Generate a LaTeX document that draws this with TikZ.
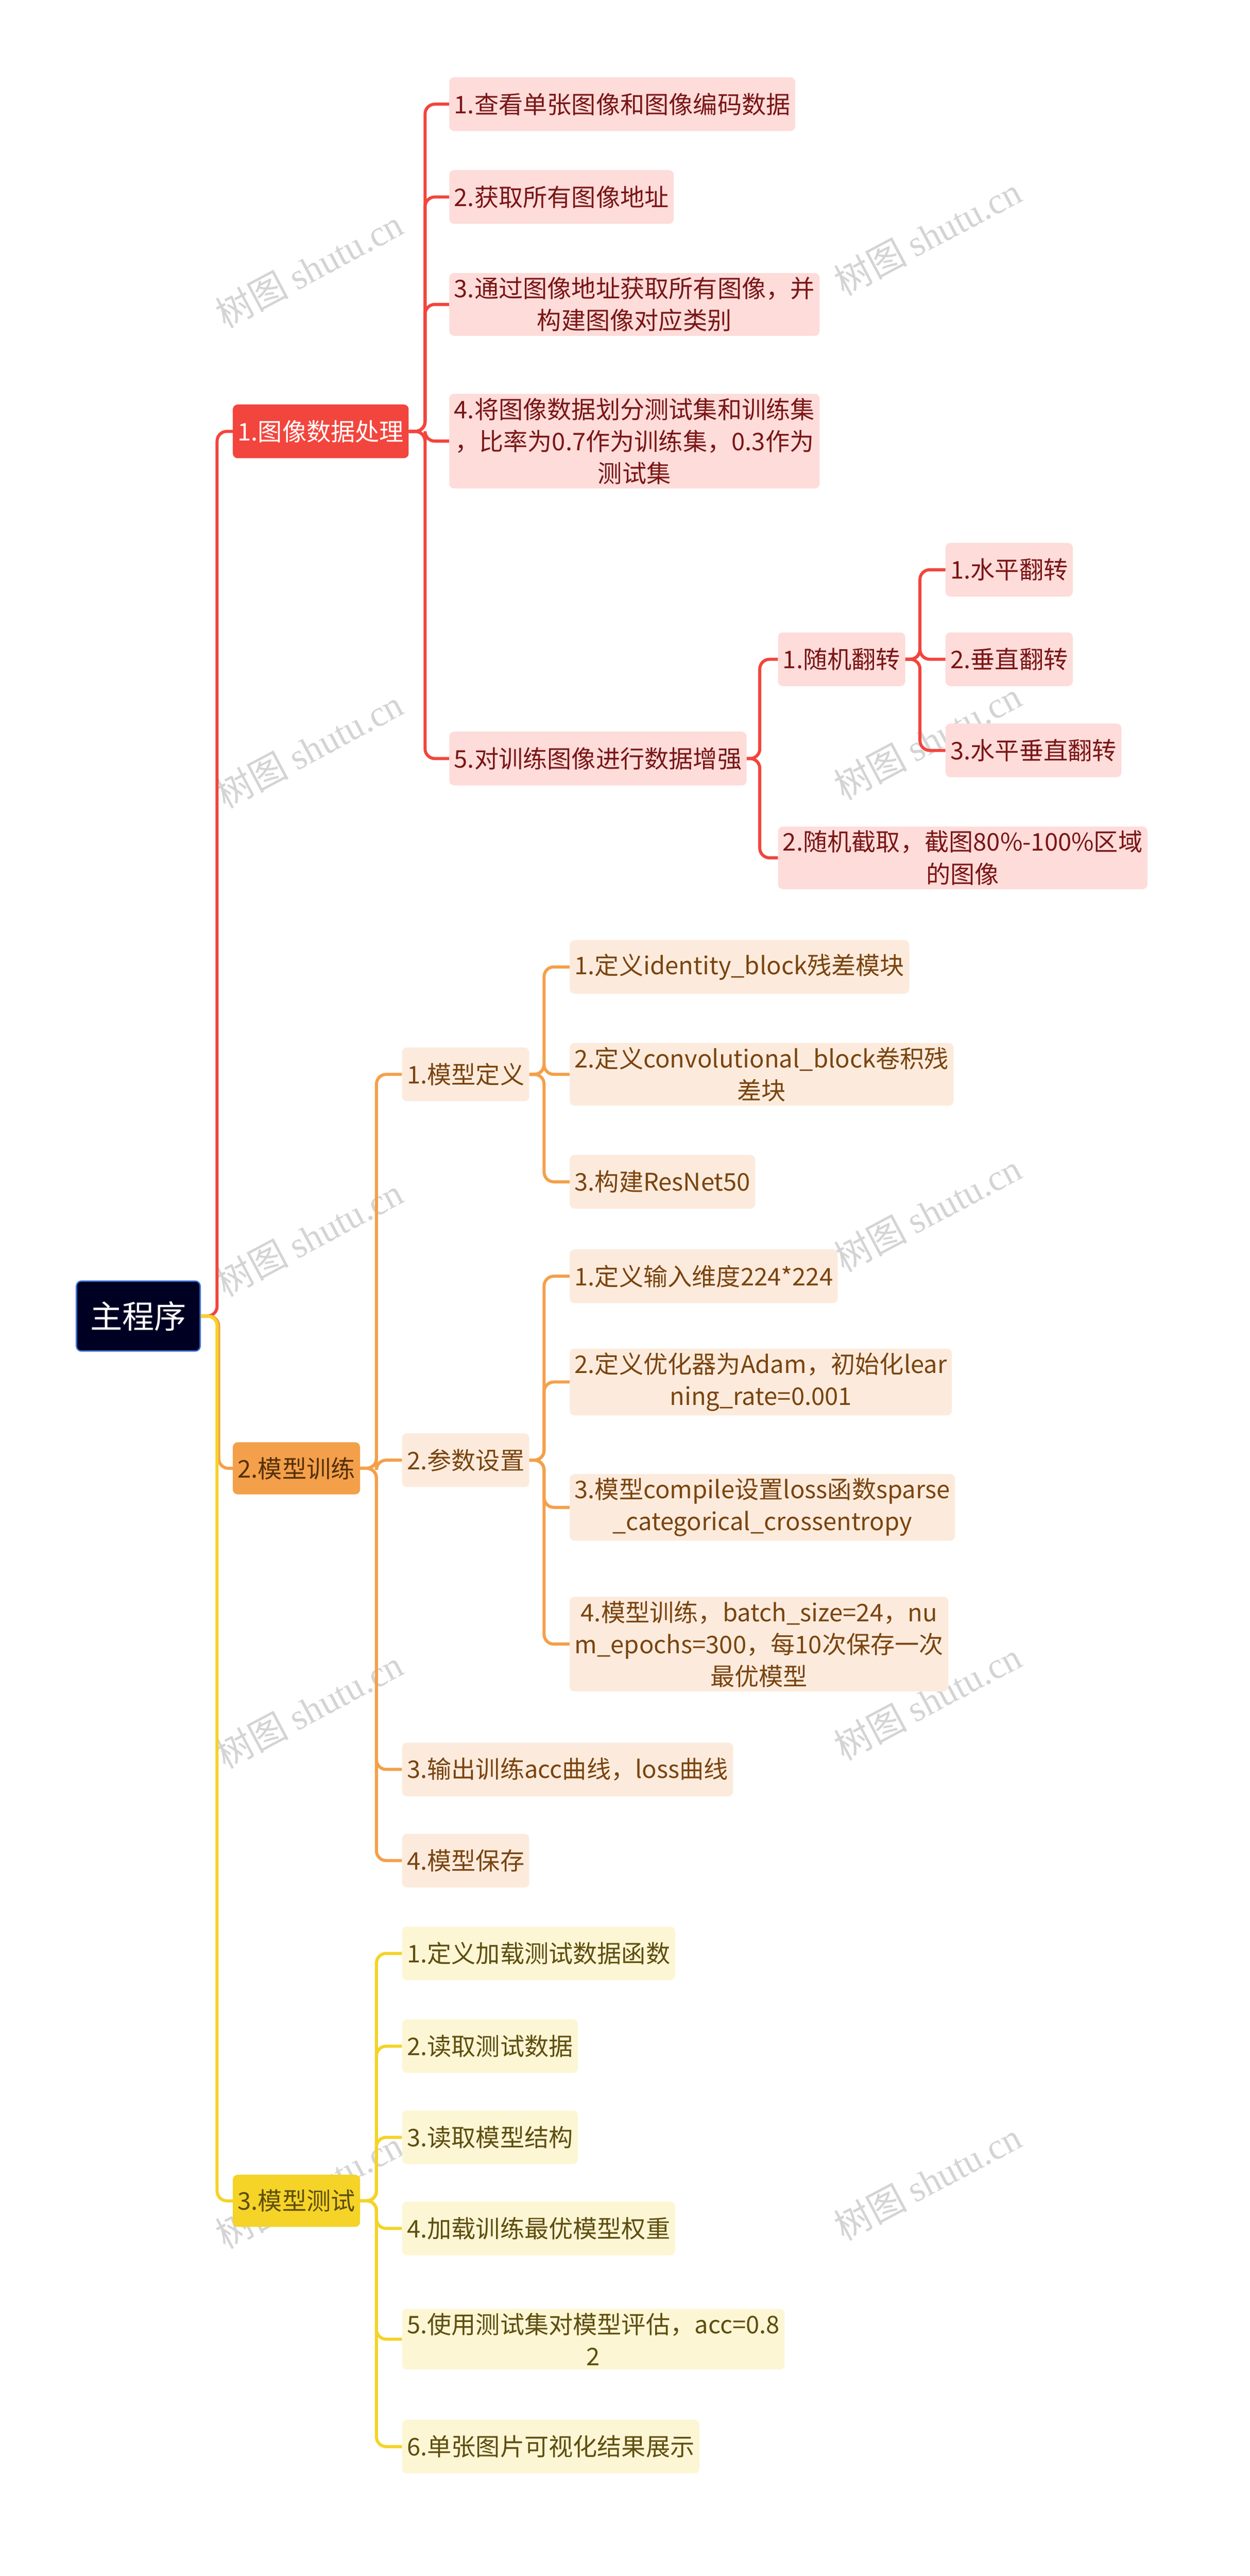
\documentclass[tikz,border=0pt]{standalone}
\usepackage{fontspec}
\setmainfont{Noto Sans CJK SC}
\newfontfamily\wmfont{Liberation Serif}
\newfontfamily\wmcjk{Noto Sans CJK SC}
\usetikzlibrary{calc}
\definecolor{rootbg}{HTML}{000022}
\definecolor{rootbd}{HTML}{3A6FD8}
\definecolor{redm}{HTML}{F2453D}
\definecolor{redl}{HTML}{FDDCDA}
\definecolor{redt}{HTML}{7A1616}
\definecolor{orm}{HTML}{F4A04A}
\definecolor{orl}{HTML}{FCEBDC}
\definecolor{ort}{HTML}{7A4410}
\definecolor{yem}{HTML}{F5D327}
\definecolor{yel}{HTML}{FDF6D4}
\definecolor{yet}{HTML}{5E4E10}
\tikzset{
 box/.style={rounded corners=3mm, inner xsep=3mm, inner ysep=2.5mm, minimum height=33mm, align=center, anchor=west, font=\fontsize{42.5}{56}\selectfont},
 rbox/.style={box, fill=redl, text=redt},
 obox/.style={box, fill=orl, text=ort},
 ybox/.style={box, fill=yel, text=yet},
 lnk/.style={line width=1.9mm, rounded corners=6mm},
 wm/.style={text=black!17, rotate=28, font=\fontsize{64}{64}\selectfont}
}
\begin{document}
\begin{tikzpicture}[x=1mm,y=-1mm]
\useasboundingbox (0,0) rectangle (768,1582.5);
% watermarks
\foreach \x/\y in {190/165,570/145,190/460,570/455,190/760,570/745,190/1050,570/1045,190/1345,570/1340}
  \node[wm] at (\x,\y) {{\wmcjk 树图} {\wmfont shutu.cn}};
% root
\node[draw=rootbd, fill=rootbg, text=white, line width=0.8mm, rounded corners=3mm, minimum width=76mm, minimum height=43mm, font=\fontsize{56}{60}\selectfont] (root) at (85,808.5) {主程序};
% level 1
\node[box, fill=redm, text=white, minimum height=33mm] (A) at (143,265) {1.图像数据处理};
\node[box, fill=orm, text=ort!70!black, minimum height=32mm] (B) at (143,902) {2.模型训练};
\node[box, fill=yem, text=yet, minimum height=32mm] (C) at (143,1352) {3.模型测试};
% A children
\node[rbox] (a1) at (276,64) {1.查看单张图像和图像编码数据};
\node[rbox] (a2) at (276,121) {2.获取所有图像地址};
\node[rbox] (a3) at (276,187) {3.通过图像地址获取所有图像，并\\构建图像对应类别};
\node[rbox] (a4) at (276,271) {4.将图像数据划分测试集和训练集\\，比率为0.7作为训练集，0.3作为\\测试集};
\node[rbox] (a5) at (276,466) {5.对训练图像进行数据增强};
\node[rbox] (b1) at (478,405) {1.随机翻转};
\node[rbox] (b2) at (478,527) {2.随机截取，截图80\%-100\%区域\\的图像};
\node[rbox] (c1) at (581,350) {1.水平翻转};
\node[rbox] (c2) at (581,405) {2.垂直翻转};
\node[rbox] (c3) at (581,461) {3.水平垂直翻转};
% B children
\node[obox] (d1) at (247,660) {1.模型定义};
\node[obox] (d2) at (247,897) {2.参数设置};
\node[obox] (d3) at (247,1087) {3.输出训练acc曲线，loss曲线};
\node[obox] (d4) at (247,1143) {4.模型保存};
\node[obox] (e1) at (350,594) {1.定义identity\_block残差模块};
\node[obox] (e2) at (350,660) {2.定义convolutional\_block卷积残\\差块};
\node[obox] (e3) at (350,726) {3.构建ResNet50};
\node[obox] (f1) at (350,784) {1.定义输入维度224*224};
\node[obox] (f2) at (350,849) {2.定义优化器为Adam，初始化lear\\ning\_rate=0.001};
\node[obox] (f3) at (350,926) {3.模型compile设置loss函数sparse\\\_categorical\_crossentropy};
\node[obox] (f4) at (350,1010) {4.模型训练，batch\_size=24，nu\\m\_epochs=300，每10次保存一次\\最优模型};
% C children
\node[ybox] (g1) at (247,1200) {1.定义加载测试数据函数};
\node[ybox] (g2) at (247,1257) {2.读取测试数据};
\node[ybox] (g3) at (247,1313) {3.读取模型结构};
\node[ybox] (g4) at (247,1369) {4.加载训练最优模型权重};
\node[ybox] (g5) at (247,1437) {5.使用测试集对模型评估，acc=0.8\\2};
\node[ybox] (g6) at (247,1503) {6.单张图片可视化结果展示};
% connectors
\draw[lnk, redm] (root.east) -- ++(10,0) |- (A.west);
\draw[lnk, orm] (root.east) -- ++(11,0) |- (B.west);
\draw[lnk, yem] (root.east) -- ++(10,0) |- (C.west);
\foreach \c in {a1,a2,a3,a4,a5} \draw[lnk, redm] (A.east) -- ++(10,0) |- (\c.west);
\foreach \c in {b1,b2} \draw[lnk, redm] (a5.east) -- ++(8,0) |- (\c.west);
\foreach \c in {c1,c2,c3} \draw[lnk, redm] (b1.east) -- ++(9,0) |- (\c.west);
\foreach \c in {d1,d2,d3,d4} \draw[lnk, orm] (B.east) -- ++(10,0) |- (\c.west);
\foreach \c in {e1,e2,e3} \draw[lnk, orm] (d1.east) -- ++(9,0) |- (\c.west);
\foreach \c in {f1,f2,f3,f4} \draw[lnk, orm] (d2.east) -- ++(9,0) |- (\c.west);
\foreach \c in {g1,g2,g3,g4,g5,g6} \draw[lnk, yem] (C.east) -- ++(10,0) |- (\c.west);
\end{tikzpicture}
\end{document}
